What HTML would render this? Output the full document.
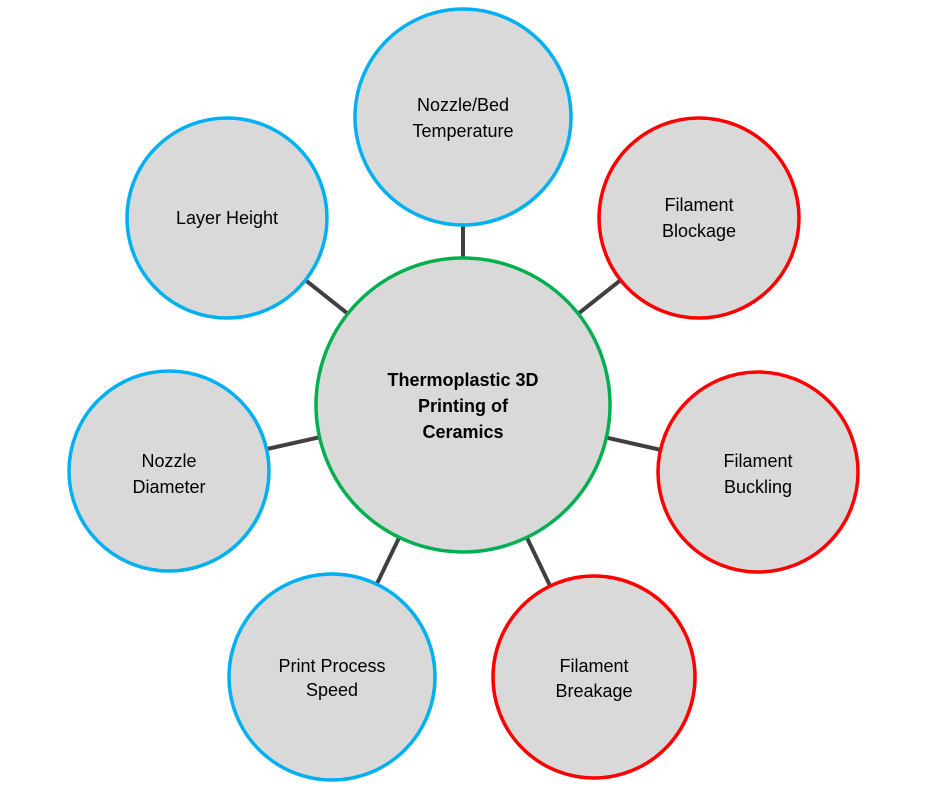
<!DOCTYPE html>
<html><head><style>body{margin:0;background:#fff}svg{display:block}text{font-family:"Liberation Sans",sans-serif;font-size:18px;fill:#000;text-anchor:middle}</style></head><body>
<svg width="927" height="785" viewBox="0 0 927 785">
<g stroke="#404040" stroke-width="4">
<line x1="463" y1="405" x2="463" y2="117"/>
<line x1="463" y1="405" x2="227" y2="218"/>
<line x1="463" y1="405" x2="699" y2="218"/>
<line x1="463" y1="405" x2="169" y2="471"/>
<line x1="463" y1="405" x2="758" y2="472"/>
<line x1="463" y1="405" x2="332" y2="677"/>
<line x1="463" y1="405" x2="594" y2="677"/>
</g>
<g fill="#D9D9D9" stroke-width="3.5">
<circle cx="463" cy="405" r="147" stroke="#00B050"/>
<circle cx="463" cy="117" r="108" stroke="#00B0F0"/>
<circle cx="227" cy="218" r="100" stroke="#00B0F0"/>
<circle cx="699" cy="218" r="100" stroke="#FF0000"/>
<circle cx="169" cy="471" r="100" stroke="#00B0F0"/>
<circle cx="758" cy="472" r="100" stroke="#FF0000"/>
<circle cx="332" cy="677" r="103" stroke="#00B0F0"/>
<circle cx="594" cy="677" r="101" stroke="#FF0000"/>
</g>
<text x="463" y="386" style="font-weight:bold">Thermoplastic 3D</text>
<text x="463" y="412" style="font-weight:bold">Printing of</text>
<text x="463" y="438" style="font-weight:bold">Ceramics</text>
<text x="463" y="111">Nozzle/Bed</text>
<text x="463" y="137">Temperature</text>
<text x="227" y="224">Layer Height</text>
<text x="699" y="211">Filament</text>
<text x="699" y="237">Blockage</text>
<text x="169" y="467">Nozzle</text>
<text x="169" y="493">Diameter</text>
<text x="758" y="467">Filament</text>
<text x="758" y="493">Buckling</text>
<text x="332" y="672">Print Process</text>
<text x="332" y="696">Speed</text>
<text x="594" y="672">Filament</text>
<text x="594" y="697">Breakage</text>
</svg>
</body></html>
